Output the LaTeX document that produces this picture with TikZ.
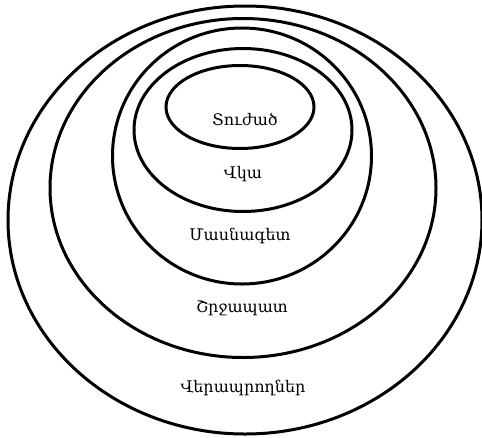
\documentclass[tikz,border=0pt]{standalone}
\usepackage{fontspec}
\setmainfont{DejaVu Serif}
\usetikzlibrary{shapes.geometric}
\begin{document}
\begin{tikzpicture}[x=1pt, y=-1pt, every node/.style={font=\fontsize{16}{18}\selectfont},
  ring/.style={draw,ellipse,line width=3pt,inner sep=0pt}]
\useasboundingbox (0,0) rectangle (482,437);
\node[ring,minimum width=474pt,minimum height=428pt] (outer) at (245,220) {};
\node[ring,minimum width=386pt,minimum height=339pt] (env) at (243,188) {};
\node[ring,minimum width=259pt,minimum height=256pt] (expert) at (242,156) {};
\node[ring,minimum width=218pt,minimum height=163pt] (witness) at (243,130) {};
\node[ring,minimum width=148pt,minimum height=83pt] (victim) at (240,107) {};
\node (tvictim) at (245,119) {Տուժած};
\node (twitness) at (243,174) {Վկա};
\node (texpert) at (240,236) {Մասնագետ};
\node (tenv) at (242,308) {Շրջապատ};
\node (touter) at (243,388) {Վերապրողներ};
\end{tikzpicture}
\end{document}
